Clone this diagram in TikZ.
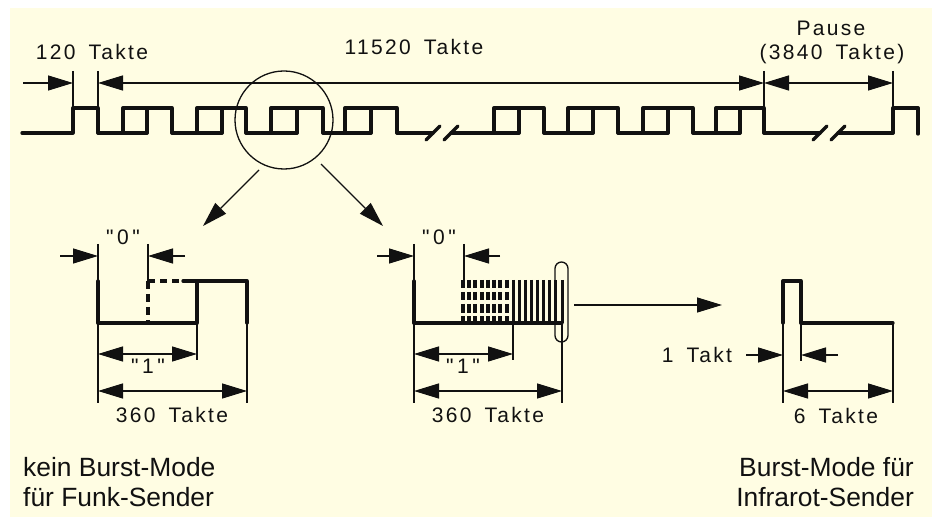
\documentclass[tikz,border=0pt]{standalone}
\usepackage{fontspec}
\usepackage{xcolor}
\usetikzlibrary{
    positioning,
    calc,
    shapes.geometric,
    arrows.meta
}
\setmainfont{Liberation Sans}
\newfontfamily\TechFont[LetterSpace=11,WordSpace=1.6]{Liberation Sans}
\definecolor{PapierGelb}{HTML}{FFFDE3}
\definecolor{Tinte}{HTML}{111111}
\tikzset{
    signal/.style={draw=Tinte, line width=3.3pt, line cap=round, line join=round},
    fine/.style={draw=Tinte, line width=1.3pt},
    dimline/.style={fine, {Triangle[length=25pt,width=15pt]}-{Triangle[length=25pt,width=15pt]}},
    dimtip/.style={fine, -{Triangle[length=25pt,width=15pt]}},
    techlabel/.style={text=Tinte, inner sep=0pt, font=\TechFont\fontsize{21}{24}\selectfont},
    caption/.style={text=Tinte, inner sep=0pt, font=\fontsize{26.4}{30}\selectfont}
}

\begin{document}
\begin{tikzpicture}[x=1pt,y=-1pt]

    \useasboundingbox (0,0) rectangle (936,518);
    \fill[white] (0,0) rectangle (936,518);
    \fill[PapierGelb] (10,8) rectangle (932,517);

    % upper pulse train
    \foreach \a/\b/\c in {123/147/172,197/222/246,271/297/323,345/371/397,494/519/544,568/593/618,643/668/693,716/740/764}
        \draw[signal] (\a,133) -- (\a,108) -- (\c,108) -- (\c,133) (\b,108) -- (\b,133);
    \foreach \a/\b in {98/147,172/222,246/297,323/371,397/433,451/519,544/593,618/668,693/740,764/820,838/893}
        \draw[signal] (\a,133) -- (\b,133);
    \draw[signal] (22,133) -- (73,133) -- (73,108) -- (98,108) -- (98,133);
    \draw[signal] (893,133) -- (893,108) -- (918,108) -- (918,134);
    \foreach \x in {426,444,813,831}
        \draw[signal] (\x,140) -- (\x+14,126);

    % upper dimensions
    \foreach \x in {73,98,764,893}
        \draw[fine] (\x,71) -- (\x,108);
    \draw[dimtip] (23,83) -- (73,83);
    \draw[dimline] (98,83) -- (764,83);
    \draw[dimline] (764,83) -- (893,83);

    \node[techlabel] (lblErster) at (92,52) {120 Takte};
    \node[techlabel] (lblDaten) at (414,47) {11520 Takte};
    \node[techlabel] (lblPause) at (831,28) {Pause};
    \node[techlabel] (lblPauseLang) at (832,54) {(3840 Takte)};

    % magnifier and its two arrows
    \node[draw=Tinte, line width=1.3pt, circle, minimum size=98pt, inner sep=0pt] (lupe) at (284,120) {};
    \coordinate (abLinks) at (259,170);
    \coordinate (abRechts) at (321,164);
    \coordinate (zielLinks) at (203,226);
    \coordinate (zielRechts) at (383,226);
    \draw[dimtip] (abLinks) -- (zielLinks);
    \draw[dimtip] (abRechts) -- (zielRechts);

    % left detail, no burst
    \draw[signal] (98,281) -- (98,323) -- (197,323) -- (197,281);
    \draw[signal] (183,281) -- (247,281) -- (247,323);
    \draw[signal, line cap=butt, dash pattern=on 7pt off 5pt] (148,281) -- (183,281);
    \draw[signal, line cap=butt, dash pattern=on 8pt off 5pt] (148,281) -- (148,323);
    \draw[fine] (98,244) -- (98,403);
    \draw[fine] (148,244) -- (148,281);
    \draw[fine] (197,323) -- (197,360);
    \draw[fine] (247,323) -- (247,403);
    \draw[dimtip] (60,256) -- (98,256);
    \draw[dimtip] (185,256) -- (148,256);
    \draw[dimline] (98,354) -- (197,354);
    \draw[dimline] (98,391) -- (247,391);
    \node[techlabel] (lblNullA) at (123,237) {"\,0\,"};
    \node[techlabel] (lblEinsA) at (148,366) {"\,1\,"};
    \node[techlabel] (lblBreiteA) at (172,415) {360 Takte};

    % middle detail, burst
    \draw[signal] (414,281) -- (414,323) -- (562,323);
    \foreach \x in {463,469,475,482,488,494,500,507}
        \draw[draw=Tinte, line width=3.2pt, dash pattern=on 8.5pt off 3.5pt] (\x,280) -- (\x,323);
    \foreach \x in {513,519,525,531,537,543,549,555,562}
        \draw[draw=Tinte, line width=3pt] (\x,280) -- (\x,323);
    \node[draw=Tinte, line width=1.3pt, rounded corners=6.5pt, minimum width=13pt, minimum height=80pt, inner sep=0pt] (burstOval) at (561.5,302) {};
    \draw[fine] (414,244) -- (414,403);
    \draw[fine] (464,244) -- (464,281);
    \draw[fine] (513,323) -- (513,360);
    \draw[fine] (562,323) -- (562,403);
    \draw[dimtip] (377,256) -- (414,256);
    \draw[dimtip] (500,256) -- (464,256);
    \draw[dimline] (414,354) -- (513,354);
    \draw[dimline] (414,391) -- (562,391);
    \node[techlabel] (lblNullB) at (439,237) {"\,0\,"};
    \node[techlabel] (lblEinsB) at (463,366) {"\,1\,"};
    \node[techlabel] (lblBreiteB) at (488,415) {360 Takte};

    \coordinate (abBurst) at (574,305);
    \coordinate (zielBurst) at (722,305);
    \draw[dimtip] (abBurst) -- (zielBurst);

    % right detail, infrared
    \draw[signal] (783,323) -- (783,281) -- (801,281) -- (801,323) -- (893,323);
    \draw[fine] (783,323) -- (783,403);
    \draw[fine] (801,323) -- (801,361);
    \draw[fine] (893,323) -- (893,403);
    \draw[dimtip] (746,355) -- (783,355);
    \draw[dimtip] (838,355) -- (801,355);
    \draw[dimline] (783,391) -- (893,391);
    \node[techlabel] (lblEinTakt) at (697,355) {1 Takt};
    \node[techlabel] (lblSechs) at (836,416) {6 Takte};

    % captions
    \node[caption, anchor=west] (capFunkA) at (23,467) {kein Burst-Mode};
    \node[caption, anchor=west] (capFunkB) at (23,497) {für Funk-Sender};
    \node[caption, anchor=east] (capIrA) at (914,467) {Burst-Mode für};
    \node[caption, anchor=east] (capIrB) at (914,497) {Infrarot-Sender};

\end{tikzpicture}
\end{document}
